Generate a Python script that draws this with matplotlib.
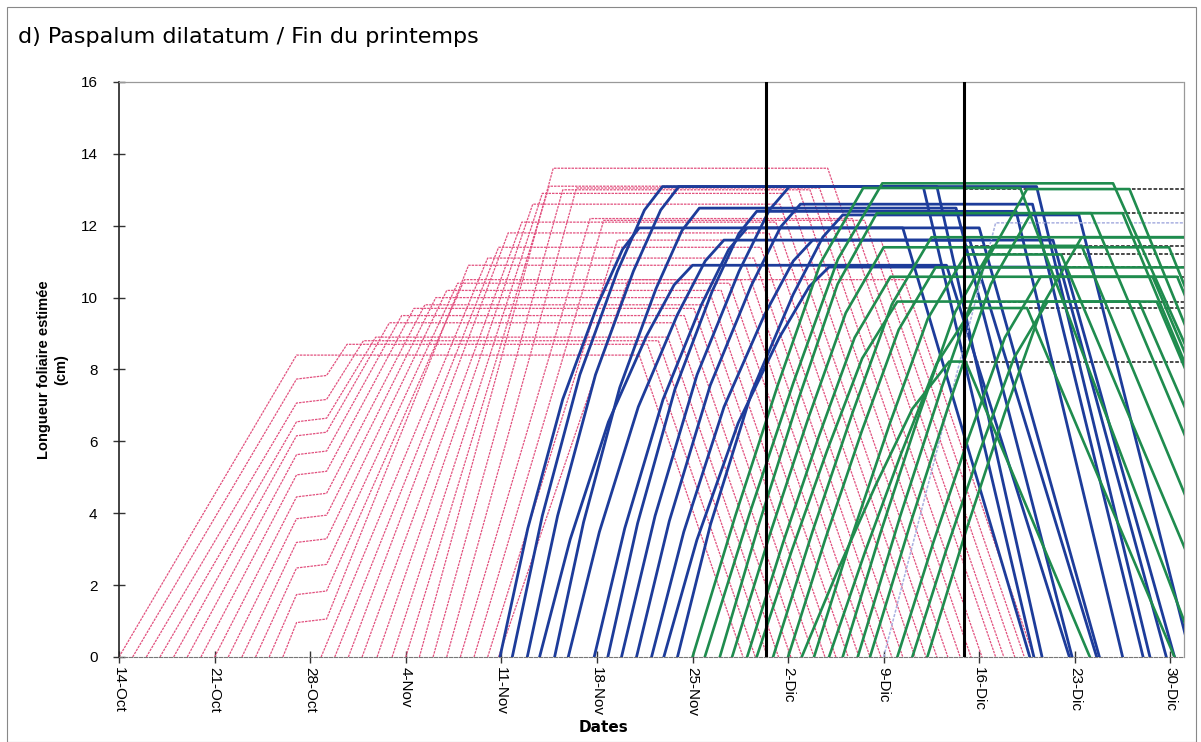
import matplotlib
matplotlib.use("Agg")
import matplotlib.pyplot as plt
from matplotlib.patches import Rectangle

# ---------------- data (days counted from 14-Oct) ----------------
tick_days = [0, 7, 14, 21, 28, 35, 42, 49, 56, 63, 70, 77]
tick_labels = ["14-Oct", "21-Oct", "28-Oct", "4-Nov", "11-Nov", "18-Nov",
               "25-Nov", "2-Dic", "9-Dic", "16-Dic", "23-Dic", "30-Dic"]
y_ticks = [0, 2, 4, 6, 8, 10, 12, 14, 16]
cut_days = [47.4, 61.9]          # the two black vertical lines
pause_window = (13.0, 15.2)      # growth halt visible on the pink curves

# pink leaves: appearance, day full length reached, max length, start of senescence, death
pink_start = [0, 1, 2, 3, 4, 5, 6, 7, 8, 9, 10, 11, 12, 14.8, 15.8, 16.8, 17.8,
              18.9, 20, 21, 22, 23, 24, 25, 26, 27, 27.8]
pink_reach = [13.0, 16.7, 17.9, 18.8, 19.8, 20.7, 21.6, 22.4, 23.2, 24.0, 24.8,
              25.3, 25.6, 27.0, 27.8, 28.5, 29.5, 30.3, 31.0, 31.5, 31.8, 32.5,
              33.5, 34.5, 35.5, 36.5, 37.3]
pink_max = [8.4, 8.7, 8.8, 8.9, 9.3, 9.5, 9.7, 9.8, 10.0, 10.2, 10.4, 10.5, 10.9,
            11.1, 11.4, 11.8, 12.1, 12.6, 12.9, 13.1, 13.6, 13.0, 13.05, 12.2,
            12.15, 11.6, 10.5]
pink_sen = [38.1, 38.7, 39.5, 40.2, 40.7, 41.4, 42.1, 42.8, 43.4, 44.1, 44.7,
            45.5, 45.9, 46.5, 47.0, 47.6, 48.1, 48.4, 49.0, 49.7, 51.9, 50.6,
            51.3, 53.7, 54.6, 55.8, 57.5]
pink_end = [45.7, 46.6, 47.5, 48.3, 49.2, 50.0, 50.9, 51.7, 52.5, 53.4, 54.2,
            55.0, 55.8, 56.6, 57.4, 58.3, 59.1, 59.9, 60.7, 61.6, 64.2, 62.4,
            63.2, 64.8, 65.6, 66.3, 67.0]

# blue leaves
blue_start = [27.9, 28.8, 29.9, 30.8, 31.9, 32.9, 34.8, 35.8, 36.8, 37.9, 39.0, 39.9, 40.9]
blue_reach = [38.1, 39.8, 41.0, 42.0, 42.5, 44.3, 46.0, 46.7, 49.1, 49.9, 50.8, 52.0, 53.0]
blue_max = [11.94, 13.09, 13.09, 10.9, 12.49, 11.6, 11.94, 12.4, 13.09, 12.6, 11.6, 10.85, 12.3]
blue_sen = [57.4, 58.9, 59.9, 60.6, 61.3, 62.3, 63.0, 65.7, 67.2, 66.9, 68.4, 69.3, 70.3]
blue_end = [66.7, 67.0, 67.6, 69.6, 69.8, 71.6, 71.8, 73.5, 75.5, 75.0, 76.7, 77.3, 78.5]

# green leaves
green_start = [42.0, 42.9, 44.0, 44.9, 46.0, 46.7, 47.9, 49.0, 50.0, 50.9, 52.0,
               53.0, 54.1, 55.0, 57.0, 58.1, 59.2]
green_reach = [54.5, 55.9, 55.5, 56.0, 56.5, 57.0, 59.5, 59.8, 60.8, 62.0, 62.5,
               64.0, 66.5, 66.8, 67.5, 68.0, 70.5]
green_max = [13.05, 13.18, 12.35, 11.4, 10.58, 9.89, 11.68, 10.84, 8.22, 11.2, 9.71,
             11.44, 13.02, 12.35, 10.58, 9.89, 11.68]
green_sen = [66.0, 72.8, 71.2, 76.9, 75.7, 74.7, 85.0, 85.0, 62.0, 69.0, 66.5,
             70.5, 74.0, 73.5, 77.5, 76.0, 85.0]
green_end = [79.0, 88.3, 84.9, 89.0, 87.5, 86.0, 95.0, 95.0, 71.1, 81.4, 77.3,
             83.0, 88.0, 87.0, 89.0, 87.0, 95.0]

# faint lavender leaf
lav_start, lav_reach, lav_max, lav_sen, lav_end = 56.0, 64.2, 12.08, 90.0, 100.0

# dark dashed length levels on the right part
dark_levels = [13.02, 12.35, 11.7, 11.44, 11.2, 10.84, 10.58, 9.89, 9.71, 8.22]
dark_from = 61.9

# normalised shape of the elongation phase (fraction of time -> fraction of length)
blue_rise_t = [0.0, 0.2, 0.45, 0.7, 0.88, 1.0]
blue_rise_f = [0.0, 0.3, 0.6, 0.82, 0.95, 1.0]
green_rise_t = [0.0, 0.25, 0.5, 0.75, 1.0]
green_rise_f = [0.0, 0.3, 0.58, 0.84, 1.0]

X_MAX = 78.0


def leaf_path(start, reach, top, sen, end, pause=None, shape=None):
    xs, ys = [start], [0.0]
    if pause is not None and start < pause[0] < reach:
        p0, p1 = pause[0], min(pause[1], reach)
        active = (reach - start) - (p1 - p0)
        y0 = top * (p0 - start) / active
        xs += [p0, p1]
        ys += [y0, y0 + 0.1]
    elif shape is not None:
        for ft, fy in zip(shape[0][1:-1], shape[1][1:-1]):
            xs.append(start + ft * (reach - start))
            ys.append(top * fy)
    xs += [reach, sen, end]
    ys += [top, top, 0.0]
    return xs, ys


fig = plt.figure(figsize=(12.01, 7.42), dpi=100)
fig.patch.set_facecolor("white")
ax = fig.add_axes([0.0991, 0.1146, 0.8868, 0.7749])

for k in range(len(dark_levels)):
    ax.plot([dark_from, X_MAX], [dark_levels[k], dark_levels[k]], color="#3a3a3a",
            lw=1.3, ls=(0, (2.0, 1.0)), zorder=1)

for i in range(len(pink_start)):
    xs, ys = leaf_path(pink_start[i], pink_reach[i], pink_max[i], pink_sen[i],
                       pink_end[i], pause_window)
    ax.plot(xs, ys, color="#e2517f", lw=0.9, ls=(0, (2.0, 0.8)), zorder=2)

for i in range(len(blue_start)):
    xs, ys = leaf_path(blue_start[i], blue_reach[i], blue_max[i], blue_sen[i], blue_end[i],
                       shape=(blue_rise_t, blue_rise_f))
    ax.plot(xs, ys, color="#1d3c9a", lw=2.0, zorder=3, solid_joinstyle="round")

xs, ys = leaf_path(lav_start, lav_reach, lav_max, lav_sen, lav_end)
ax.plot(xs, ys, color="#a9b0e0", lw=1.1, ls=(0, (2.0, 1.0)), zorder=3)

for i in range(len(green_start)):
    xs, ys = leaf_path(green_start[i], green_reach[i], green_max[i], green_sen[i], green_end[i],
                       shape=(green_rise_t, green_rise_f))
    ax.plot(xs, ys, color="#1f8c4e", lw=1.9, zorder=4, solid_joinstyle="round")

for d in cut_days:
    ax.axvline(d, color="black", lw=2.2, zorder=6)

ax.set_xlim(0, X_MAX)
ax.set_ylim(0, 16)
ax.set_xticks(tick_days)
ax.set_xticklabels(tick_labels, rotation=-90, fontsize=11, family="Liberation Sans")
ax.set_yticks(y_ticks)
ax.set_yticklabels([str(v) for v in y_ticks], fontsize=11, family="Liberation Sans")
ax.tick_params(axis="both", direction="inout", length=9, width=1.0, color="#333333")
ax.tick_params(axis="y", pad=11)
ax.tick_params(axis="x", pad=3)

for s in ["top", "right"]:
    ax.spines[s].set_linestyle((0, (2, 1)))
    ax.spines[s].set_color("#999999")
    ax.spines[s].set_linewidth(0.9)
ax.spines["bottom"].set_linestyle((0, (3, 1.5)))
ax.spines["bottom"].set_color("#777777")
ax.spines["left"].set_color("#222222")
ax.spines["left"].set_linewidth(1.2)

ax.set_ylabel("Longueur foliaire estimée\n(cm)", fontsize=10.5, family="Liberation Sans",
              fontweight="semibold", labelpad=9, linespacing=1.3)

fig.text(604 / 1201, 1 - 727 / 742, "Dates", fontsize=11, family="DejaVu Sans",
         fontweight="bold", ha="center", va="center")

fig.text(0.015, 0.950, "d) Paspalum dilatatum / Fin du printemps", fontsize=16,
         family="DejaVu Sans", ha="left", va="center")

fig.add_artist(Rectangle((0.006, 0.0), 0.99, 0.99, transform=fig.transFigure,
                         fill=False, edgecolor="#888888", lw=0.8))

fig.savefig("out.png", dpi=100, facecolor="white")
